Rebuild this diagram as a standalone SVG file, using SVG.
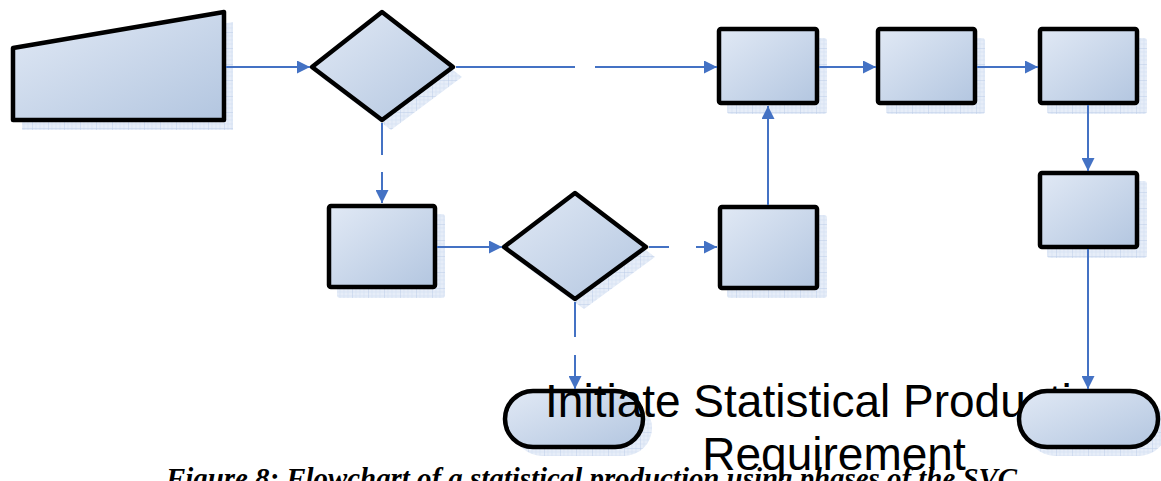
<svg xmlns="http://www.w3.org/2000/svg" width="1161" height="481" viewBox="0 0 1161 481">
  <defs>
    <linearGradient id="fillGrad" x1="0" y1="0" x2="1" y2="1">
      <stop offset="0" stop-color="#e1e9f5"/>
      <stop offset="1" stop-color="#b3c6e0"/>
    </linearGradient>
    <pattern id="grid" width="16" height="16" patternUnits="userSpaceOnUse">
      <rect width="16" height="16" fill="#e6edf8"/>
      <path d="M4,0V16M8,0V16M12,0V16M0,4H16M0,8H16M0,12H16" stroke="#d3dff1" stroke-width="0.6"/>
      <path d="M0,0V16M0,0H16" stroke="#b9cbe7" stroke-width="0.9"/>
    </pattern>
    <marker id="arrow" viewBox="0 0 10 10" refX="10" refY="5" markerWidth="13" markerHeight="13" markerUnits="userSpaceOnUse" orient="auto">
      <path d="M0,0L10,5L0,10z" fill="#4472c4"/>
    </marker>
  </defs>
  <style>
    .shape { fill: url(#fillGrad); stroke: #000; stroke-width: 4.5; stroke-linejoin: round; }
    .shadow { fill: url(#grid); stroke: none; }
    .conn { fill: none; stroke: #4472c4; stroke-width: 2; }
    .label { font-family: "Liberation Sans", Arial, sans-serif; font-size: 46px; fill: #000; }
    .caption { font-family: "Liberation Serif", "Times New Roman", serif; font-size: 29px; font-weight: bold; font-style: italic; fill: #000; }
  </style>

  <g id="manual-input">
    <polygon class="shadow" points="22,58 233,22 233,130 22,130"/>
    <polygon class="shape" points="13,48 224,12 224,120 13,120"/>
  </g>

  <g id="decision-1">
    <polygon class="shadow" points="321,77 391,22 462,77 391,130"/>
    <polygon class="shape" points="312,67 382,12 453,67 382,120"/>
  </g>

  <g id="process-a">
    <rect class="shadow" x="727" y="38" width="100" height="76" rx="3"/>
    <rect class="shape" x="719" y="29" width="98" height="74" rx="2"/>
  </g>

  <g id="process-b">
    <rect class="shadow" x="886" y="38" width="99" height="76" rx="3"/>
    <rect class="shape" x="878" y="29" width="97" height="74" rx="2"/>
  </g>

  <g id="process-c">
    <rect class="shadow" x="1047" y="38" width="100" height="76" rx="3"/>
    <rect class="shape" x="1040" y="29" width="97" height="74" rx="2"/>
  </g>

  <g id="process-d">
    <rect class="shadow" x="1047" y="181" width="100" height="77" rx="3"/>
    <rect class="shape" x="1040" y="173" width="97" height="74" rx="2"/>
  </g>

  <g id="process-e">
    <rect class="shadow" x="337" y="214" width="108" height="84" rx="3"/>
    <rect class="shape" x="329" y="206" width="106" height="81" rx="2"/>
  </g>

  <g id="decision-2">
    <polygon class="shadow" points="513,257 584,203 655,257 584,309"/>
    <polygon class="shape" points="504,247 575,193 646,247 575,299"/>
  </g>

  <g id="process-f">
    <rect class="shadow" x="727" y="215" width="100" height="83" rx="3"/>
    <rect class="shape" x="720" y="207" width="97" height="81" rx="2"/>
  </g>

  <g id="terminal-start">
    <rect class="shadow" x="514" y="400" width="138" height="56" rx="28"/>
    <rect class="shape" x="505" y="391" width="138" height="56" rx="28"/>
    <text class="label" text-anchor="middle" x="834" y="417">Initiate Statistical Production</text>
    <text class="label" text-anchor="middle" x="834" y="470">Requirement</text>
  </g>

  <g id="terminal-end">
    <rect class="shadow" x="1027" y="400" width="140" height="56" rx="28"/>
    <rect class="shape" x="1019" y="391" width="139" height="56" rx="28"/>
  </g>

  <g id="connectors">
    <path class="conn" d="M226,67H310" marker-end="url(#arrow)"/>
    <path class="conn" d="M456,67H575"/>
    <path class="conn" d="M595,67H717" marker-end="url(#arrow)"/>
    <path class="conn" d="M382,123V155"/>
    <path class="conn" d="M382,172V203" marker-end="url(#arrow)"/>
    <path class="conn" d="M437,247H502" marker-end="url(#arrow)"/>
    <path class="conn" d="M649,247H669"/>
    <path class="conn" d="M696,247H717" marker-end="url(#arrow)"/>
    <path class="conn" d="M768,205V106" marker-end="url(#arrow)"/>
    <path class="conn" d="M819,67H876" marker-end="url(#arrow)"/>
    <path class="conn" d="M977,67H1038" marker-end="url(#arrow)"/>
    <path class="conn" d="M1088,105V171" marker-end="url(#arrow)"/>
    <path class="conn" d="M1088,249V389" marker-end="url(#arrow)"/>
    <path class="conn" d="M575,302V337"/>
    <path class="conn" d="M575,355V389" marker-end="url(#arrow)"/>
  </g>

  <text class="caption" x="166" y="488" textLength="851" lengthAdjust="spacingAndGlyphs">Figure 8: Flowchart of a statistical production using phases of the SVC</text>
</svg>
